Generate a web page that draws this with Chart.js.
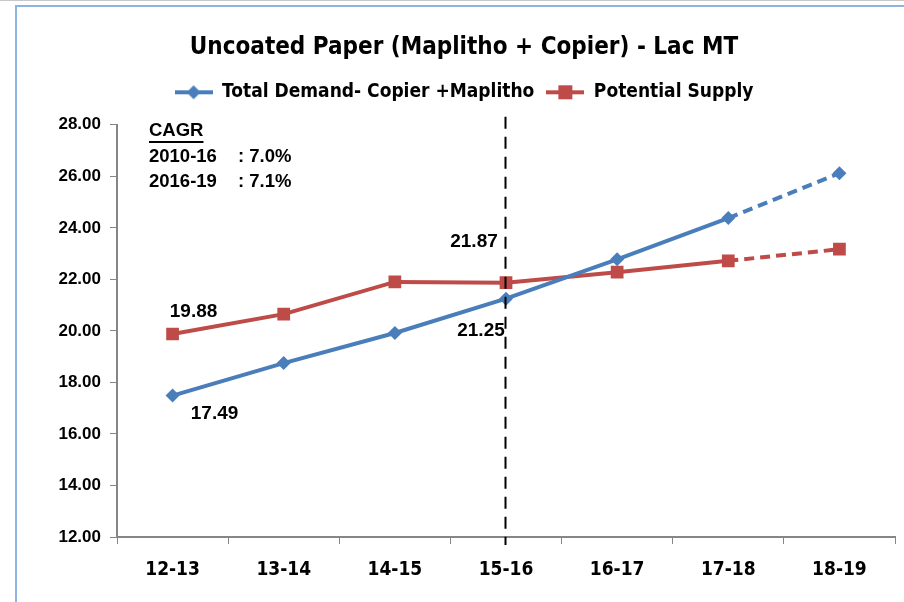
<!DOCTYPE html>
<html>
<head>
<meta charset="utf-8">
<title>Uncoated Paper (Maplitho + Copier) - Lac MT</title>
<script src="https://cdn.jsdelivr.net/npm/chart.js@4.4.1/dist/chart.umd.min.js"></script>
<style>
    html, body { margin: 0; padding: 0; background: #fff; }
    #wrap { position: relative; width: 904px; height: 602px; overflow: hidden; }
    #topline { position: absolute; left: 0; top: 0; width: 904px; height: 1px; background: #c8c8c8; }
    #frame { position: absolute; left: 15px; top: 5px; width: 900px; height: 620px;
             border-left: 2px solid #8db3e2; border-top: 2px solid #8db3e2; }
    #chart { position: absolute; left: 0; top: 0; }
</style>
</head>
<body>
<div id="wrap">
    <div id="topline"></div>
    <div id="frame"></div>
    <canvas id="chart" width="904" height="602"></canvas>
</div>
<script>
// --- Data ---
const years = ['12-13', '13-14', '14-15', '15-16', '16-17', '17-18', '18-19'];
const demandValues = [17.49, 18.75, 19.92, 21.25, 22.78, 24.38, 26.12];
const supplyValues = [19.88, 20.65, 21.90, 21.87, 22.28, 22.72, 23.17];
const yTicks = [12, 14, 16, 18, 20, 22, 24, 26, 28];
const cagrTitle = 'CAGR';
const cagrPeriods = ['2010-16', '2016-19'];
const cagrRates = [': 7.0%', ': 7.1%'];
const dividerIndex = 3;     // dashed vertical line at 15-16
const projectedFrom = 5;    // last segment is a projection

const BLUE = '#4a7ebb';
const RED = '#be4b48';
const NARROW = '"Liberation Sans Narrow", "DejaVu Sans Condensed", "Roboto Condensed", "Arial Narrow", "Liberation Sans", sans-serif';
const ARIAL = '"Liberation Sans", Arial, sans-serif';

// small legend swatch: line with marker
function legendSwatch(color, shape) {
    const c = document.createElement('canvas');
    c.width = 38; c.height = 16;
    const g = c.getContext('2d');
    g.strokeStyle = color; g.lineWidth = 4;
    g.beginPath(); g.moveTo(0, 8); g.lineTo(38, 8); g.stroke();
    g.fillStyle = color;
    g.beginPath();
    if (shape === 'diamond') {
        g.moveTo(19, 1); g.lineTo(26, 8); g.lineTo(19, 15); g.lineTo(12, 8);
    } else {
        g.rect(12, 1, 14, 14);
    }
    g.closePath(); g.fill();
    return c;
}

// extra room under the legend, and title/legend centred a bit to the right
const headerTweaks = {
    id: 'headerTweaks',
    beforeInit(chart) {
        const fit = chart.legend.fit;
        chart.legend.fit = function () {
            fit.call(this);
            this.height += 13;
        };
    },
    afterLayout(chart) {
        chart.titleBlock.left += 30;
        chart.legend.left += 30;
    }
};

const annotations = {
    id: 'annotations',
    afterDatasetsDraw(chart) {
        const { ctx, chartArea } = chart;
        const x = chart.scales.x, y = chart.scales.y;

        // dashed divider
        const dx = Math.round(x.getPixelForValue(dividerIndex)) - 0.5;
        ctx.save();
        ctx.strokeStyle = '#000';
        ctx.lineWidth = 2;
        ctx.setLineDash([12, 8]);
        ctx.beginPath();
        ctx.moveTo(dx, chartArea.top - 8);
        ctx.lineTo(dx, chartArea.bottom + 8);
        ctx.stroke();
        ctx.restore();

        // data labels
        ctx.save();
        ctx.fillStyle = '#000';
        ctx.font = 'bold 19px ' + ARIAL;
        ctx.textAlign = 'center';
        ctx.textBaseline = 'middle';
        const lab = (val, i, ox, oy) => {
            ctx.fillText(val.toFixed(2), x.getPixelForValue(i) + ox, y.getPixelForValue(val) + oy);
        };
        lab(supplyValues[0], 0, 21, -22);
        lab(demandValues[0], 0, 42, 18);
        lab(supplyValues[dividerIndex], dividerIndex, -32, -41);
        lab(demandValues[dividerIndex], dividerIndex, -25, 32);

        // CAGR note
        const cx = chartArea.left + 32;
        ctx.textAlign = 'left';
        ctx.font = 'bold 18.5px ' + ARIAL;
        ctx.fillText(cagrTitle, cx, 131);
        const w = ctx.measureText(cagrTitle).width;
        ctx.fillRect(cx, 141, w, 2);
        cagrPeriods.forEach((p, i) => {
            ctx.fillText(p, cx, 157 + i * 25);
            ctx.fillText(cagrRates[i], cx + 89, 157 + i * 25);
        });
        ctx.restore();
    }
};

const dashLast = ctx => ctx.p0DataIndex >= projectedFrom ? [10, 6] : undefined;

new Chart(document.getElementById('chart'), {
    type: 'line',
    data: {
        labels: years,
        datasets: [
            {
                label: 'Total Demand- Copier +Maplitho',
                data: demandValues,
                borderColor: BLUE,
                backgroundColor: BLUE,
                borderWidth: 4,
                pointStyle: 'rectRot',
                pointRadius: 7,
                pointHoverRadius: 7,
                pointBorderWidth: 0,
                tension: 0,
                segment: { borderDash: dashLast }
            },
            {
                label: 'Potential Supply',
                data: supplyValues,
                borderColor: RED,
                backgroundColor: RED,
                borderWidth: 4,
                pointStyle: 'rect',
                pointRadius: 9,
                pointHoverRadius: 9,
                pointBorderWidth: 0,
                tension: 0,
                segment: { borderDash: dashLast }
            }
        ]
    },
    options: {
        responsive: false,
        animation: false,
        layout: { padding: { left: 0, right: 6, top: 0, bottom: 0 } },
        plugins: {
            title: {
                display: true,
                text: 'Uncoated Paper (Maplitho + Copier) - Lac MT',
                color: '#000',
                font: { family: NARROW, size: 24, weight: 'bold' },
                padding: { top: 33, bottom: 9 }
            },
            legend: {
                display: true,
                labels: {
                    color: '#000',
                    font: { family: NARROW, size: 19, weight: 'bold' },
                    usePointStyle: true,
                    pointStyleWidth: 38,
                    padding: 12,
                    generateLabels(chart) {
                        return chart.data.datasets.map((ds, i) => ({
                            text: ds.label,
                            pointStyle: legendSwatch(ds.borderColor, i === 0 ? 'diamond' : 'square'),
                            fontColor: '#000',
                            lineWidth: 0,
                            strokeStyle: ds.borderColor,
                            fillStyle: ds.borderColor,
                            datasetIndex: i
                        }));
                    }
                }
            },
            tooltip: { enabled: false }
        },
        scales: {
            x: {
                offset: true,
                grid: { offset: true, drawOnChartArea: false, drawTicks: true, tickLength: 7, color: '#868686', lineWidth: 1 },
                border: { color: '#868686', width: 2 },
                ticks: { color: '#000', padding: 15, font: { family: NARROW, size: 19, weight: 'bold' } },
                afterFit(s) { s.height = 65; }
            },
            y: {
                min: 12,
                max: 28,
                afterBuildTicks(s) { s.ticks = yTicks.map(v => ({ value: v })); },
                grid: { drawOnChartArea: false, drawTicks: true, tickLength: 7, color: '#868686', lineWidth: 1 },
                border: { color: '#868686', width: 2 },
                ticks: {
                    color: '#000',
                    padding: 9,
                    font: { family: ARIAL, size: 17, weight: 'bold' },
                    callback: v => Number(v).toFixed(2)
                },
                afterFit(s) { s.width = 117; }
            }
        }
    },
    plugins: [headerTweaks, annotations]
});
</script>
</body>
</html>
